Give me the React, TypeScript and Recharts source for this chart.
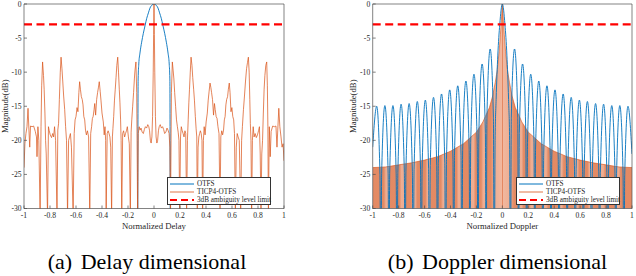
import { ComposedChart, Line, Area, XAxis, YAxis, ReferenceLine, Legend } from 'recharts';

type Pt = [number, number];

const SERIF = "'Liberation Serif', 'Times New Roman', Times, serif";
const BLUE = '#0072BD';
const ORANGE = '#D95319';
const RED = '#FF0000';
const AXIS = '#4d4d4d';

const xTicks = [-1, -0.8, -0.6, -0.4, -0.2, 0, 0.2, 0.4, 0.6, 0.8, 1];
const yTicks = [-30, -25, -20, -15, -10, -5, 0];
const limitLevel = -3;

// (a) delay: OTFS main lobe, falls below -30 outside it
const delayOtfs: Pt[] = [
  [-0.126, -45], [-0.122, -11], [-0.117, -8.8], [-0.108, -7.2], [-0.095, -5.6], [-0.082, -4.3],
  [-0.068, -3.1], [-0.056, -2.1], [-0.043, -1.3], [-0.031, -0.6], [-0.015, -0.15], [0, 0],
  [0.015, -0.15], [0.031, -0.6], [0.043, -1.3], [0.056, -2.1], [0.068, -3.1], [0.082, -4.3],
  [0.095, -5.6], [0.108, -7.2], [0.117, -8.8], [0.122, -11], [0.126, -45],
];

// (a) delay: TICP4-OTFS
const delayTicp: Pt[] = [
  [-1, -24], [-0.993, -20.5], [-0.985, -19], [-0.977, -18], [-0.969, -15.3], [-0.962, -18.5],
  [-0.956, -21], [-0.95, -17.9], [-0.938, -18], [-0.926, -17.9], [-0.913, -18.7], [-0.904, -19.5],
  [-0.9, -22.4], [-0.893, -18], [-0.886, -20], [-0.876, -31], [-0.869, -18], [-0.864, -12],
  [-0.857, -8.5], [-0.85, -10.5], [-0.845, -12.5], [-0.839, -16], [-0.834, -20], [-0.829, -22],
  [-0.819, -31], [-0.812, -18], [-0.806, -18.6], [-0.798, -19.2], [-0.788, -19.6], [-0.779, -19],
  [-0.772, -19.5], [-0.765, -18], [-0.757, -20], [-0.746, -31], [-0.74, -18.5], [-0.734, -17.5],
  [-0.728, -14], [-0.721, -10], [-0.715, -7.8], [-0.708, -9.5], [-0.702, -11.3], [-0.695, -13.5],
  [-0.687, -15.5], [-0.68, -18], [-0.673, -20], [-0.665, -31], [-0.657, -20], [-0.65, -19.5],
  [-0.643, -19], [-0.635, -21], [-0.622, -31], [-0.614, -19], [-0.607, -17], [-0.6, -16.5],
  [-0.592, -15.2], [-0.585, -15.8], [-0.578, -13], [-0.572, -11.4], [-0.566, -12.5], [-0.559, -13.6],
  [-0.552, -14], [-0.546, -14.8], [-0.54, -16.5], [-0.533, -17], [-0.527, -18.5], [-0.52, -19.2],
  [-0.512, -18.6], [-0.503, -19.5], [-0.494, -31], [-0.487, -19], [-0.48, -18], [-0.474, -16.8],
  [-0.468, -16.5], [-0.461, -15.5], [-0.456, -14.6], [-0.449, -16.3], [-0.441, -14], [-0.434, -13],
  [-0.427, -12.2], [-0.421, -11.4], [-0.414, -12.8], [-0.408, -14.1], [-0.4, -16], [-0.39, -17.3],
  [-0.383, -19.2], [-0.377, -18], [-0.372, -20], [-0.368, -31], [-0.36, -19], [-0.353, -18.6],
  [-0.346, -19], [-0.339, -19.5], [-0.333, -21], [-0.326, -31], [-0.32, -19.5], [-0.316, -18.3],
  [-0.31, -16.5], [-0.304, -14.1], [-0.298, -12.5], [-0.292, -10.8], [-0.286, -9], [-0.279, -7.8],
  [-0.273, -10], [-0.267, -12.5], [-0.262, -14.5], [-0.257, -17], [-0.253, -20], [-0.248, -31],
  [-0.241, -19], [-0.234, -18.6], [-0.226, -19.5], [-0.219, -19], [-0.212, -18.6], [-0.205, -18],
  [-0.197, -19.5], [-0.19, -20.5], [-0.182, -31], [-0.176, -18.8], [-0.171, -17], [-0.164, -15],
  [-0.157, -13], [-0.151, -11], [-0.146, -9.7], [-0.139, -8.5], [-0.133, -13], [-0.126, -31],
  [-0.121, -19], [-0.114, -18], [-0.107, -18.5], [-0.1, -18.2], [-0.091, -18.8], [-0.082, -19],
  [-0.074, -18.4], [-0.066, -18], [-0.057, -18.2], [-0.048, -17.7], [-0.04, -18], [-0.034, -18.6],
  [-0.028, -20], [-0.022, -20.4], [-0.016, -19.5], [-0.011, -16.5], [-0.006, -10], [-0.003, -4.5],
  [0, 0],
  [0.003, -4.5], [0.006, -10], [0.011, -16.5], [0.016, -19.5], [0.022, -20.4], [0.028, -20],
  [0.034, -18.6], [0.04, -18], [0.048, -17.7], [0.057, -18.2], [0.066, -18], [0.074, -18.4],
  [0.082, -19], [0.091, -18.8], [0.1, -18.2], [0.108, -18.5], [0.116, -19], [0.122, -21],
  [0.127, -31], [0.134, -13], [0.141, -8.5], [0.147, -9.7], [0.153, -11], [0.159, -13],
  [0.166, -15], [0.173, -17], [0.18, -18], [0.186, -18.8], [0.192, -20], [0.198, -31],
  [0.204, -19.5], [0.21, -18], [0.217, -18.6], [0.224, -19], [0.231, -19.5], [0.238, -18.6],
  [0.244, -19], [0.251, -31], [0.257, -20], [0.263, -17], [0.268, -14.5], [0.273, -12.5],
  [0.279, -10], [0.285, -7.8], [0.292, -9], [0.298, -10.8], [0.305, -12.5], [0.311, -14.1],
  [0.318, -16.5], [0.324, -18.3], [0.329, -19.5], [0.333, -31], [0.339, -21], [0.345, -19.5],
  [0.351, -19], [0.357, -18.6], [0.363, -19], [0.369, -20], [0.374, -31], [0.38, -20],
  [0.386, -18], [0.393, -19.2], [0.401, -17.3], [0.41, -16], [0.417, -14.1], [0.424, -12.8],
  [0.431, -11.6], [0.437, -12.2], [0.443, -13], [0.45, -14], [0.458, -16.3], [0.465, -14.6],
  [0.471, -15.5], [0.478, -16.5], [0.485, -16.8], [0.492, -18], [0.5, -19], [0.508, -31],
  [0.514, -19.5], [0.521, -18.6], [0.528, -19.2], [0.535, -18.5], [0.541, -17], [0.547, -16.5],
  [0.553, -14.8], [0.559, -14], [0.566, -13.6], [0.572, -12.5], [0.579, -11.6], [0.585, -13],
  [0.592, -15.8], [0.599, -15.2], [0.606, -16.5], [0.613, -17], [0.619, -19], [0.626, -31],
  [0.633, -21], [0.64, -19], [0.647, -19.5], [0.656, -20], [0.667, -31], [0.674, -20],
  [0.68, -18], [0.688, -15.5], [0.696, -13.5], [0.704, -11.3], [0.712, -9.5], [0.719, -8.6],
  [0.726, -7.8], [0.732, -10], [0.737, -14], [0.741, -17.5], [0.746, -20], [0.751, -31],
  [0.757, -20], [0.763, -18], [0.77, -19.5], [0.778, -19], [0.787, -19.6], [0.796, -19.2],
  [0.804, -18.6], [0.811, -18], [0.817, -22], [0.823, -31], [0.829, -22], [0.835, -20],
  [0.841, -16], [0.847, -12.5], [0.853, -10.5], [0.86, -9], [0.867, -8.5], [0.872, -12],
  [0.876, -18], [0.88, -31], [0.887, -18], [0.894, -22.4], [0.901, -18.7], [0.913, -17.9],
  [0.926, -18], [0.938, -17.9], [0.946, -21], [0.952, -18.5], [0.96, -15.3], [0.968, -18],
  [0.977, -19.5], [0.985, -21], [0.993, -20.5], [1, -23],
];

// (b) doppler: OTFS sidelobes
const dopplerOtfs: Pt[] = [
  [-1, -21], [-0.969, -15], [-0.944, -25], [-0.9375, -45],
  [-0.931, -24.9], [-0.906, -14.9], [-0.881, -24.9], [-0.875, -45],
  [-0.869, -24.9], [-0.844, -14.9], [-0.819, -24.9], [-0.8125, -45],
  [-0.806, -24.7], [-0.781, -14.7], [-0.756, -24.7], [-0.75, -45],
  [-0.744, -24.6], [-0.719, -14.6], [-0.694, -24.6], [-0.6875, -45],
  [-0.681, -24.3], [-0.656, -14.3], [-0.631, -24.3], [-0.625, -45],
  [-0.619, -24.1], [-0.594, -14.1], [-0.569, -24.1], [-0.5625, -45],
  [-0.556, -23.7], [-0.531, -13.7], [-0.506, -23.7], [-0.5, -45],
  [-0.494, -23.2], [-0.469, -13.2], [-0.444, -23.2], [-0.4375, -45],
  [-0.431, -22.6], [-0.406, -12.6], [-0.381, -22.6], [-0.375, -45],
  [-0.369, -22], [-0.344, -12], [-0.319, -22], [-0.3125, -45],
  [-0.306, -21.3], [-0.281, -11.3], [-0.256, -21.3], [-0.25, -45],
  [-0.244, -20.3], [-0.219, -10.3], [-0.194, -20.3], [-0.1875, -45],
  [-0.181, -18.8], [-0.156, -8.8], [-0.131, -18.8], [-0.125, -45],
  [-0.119, -16.6], [-0.094, -6.6], [-0.069, -16.6], [-0.0625, -45],
  [-0.056, -20], [-0.048, -14], [-0.035, -7.5], [-0.02, -3], [0, 0],
  [0.02, -3], [0.035, -7.5], [0.048, -14], [0.056, -20], [0.0625, -45],
  [0.069, -16.6], [0.094, -6.6], [0.119, -16.6], [0.125, -45],
  [0.131, -18.8], [0.156, -8.8], [0.181, -18.8], [0.1875, -45],
  [0.194, -20.3], [0.219, -10.3], [0.244, -20.3], [0.25, -45],
  [0.256, -21.3], [0.281, -11.3], [0.306, -21.3], [0.3125, -45],
  [0.319, -22], [0.344, -12], [0.369, -22], [0.375, -45],
  [0.381, -22.6], [0.406, -12.6], [0.431, -22.6], [0.4375, -45],
  [0.444, -23.2], [0.469, -13.2], [0.494, -23.2], [0.5, -45],
  [0.506, -23.7], [0.531, -13.7], [0.556, -23.7], [0.5625, -45],
  [0.569, -24.1], [0.594, -14.1], [0.619, -24.1], [0.625, -45],
  [0.631, -24.3], [0.656, -14.3], [0.681, -24.3], [0.6875, -45],
  [0.694, -24.6], [0.719, -14.6], [0.744, -24.6], [0.75, -45],
  [0.756, -24.7], [0.781, -14.7], [0.806, -24.7], [0.8125, -45],
  [0.819, -24.9], [0.844, -14.9], [0.869, -24.9], [0.875, -45],
  [0.881, -24.9], [0.906, -14.9], [0.931, -24.9], [0.9375, -45],
  [0.944, -25], [0.969, -15], [1, -22],
];

// (b) doppler: TICP4-OTFS upper envelope (the trace oscillates down to the floor)
const dopplerTicp: Pt[] = [
  [-1, -24], [-0.9, -23.9], [-0.8, -23.6], [-0.7, -23.3], [-0.6, -22.9], [-0.5, -22.4],
  [-0.4, -21.6], [-0.3, -20.5], [-0.2, -18.8], [-0.15, -17.3], [-0.1, -15.2], [-0.075, -13.5],
  [-0.055, -11.5], [-0.04, -9.8], [-0.025, -7], [-0.015, -4.5], [-0.008, -2.5], [0, 0],
  [0.008, -2.5], [0.015, -4.5], [0.025, -7], [0.04, -9.8], [0.055, -11.5], [0.075, -13.5],
  [0.1, -15.2], [0.15, -17.3], [0.2, -18.8], [0.3, -20.5], [0.4, -21.6], [0.5, -22.4],
  [0.6, -22.9], [0.7, -23.3], [0.8, -23.6], [0.9, -23.9], [1, -24],
];

// x positions of the paler streaks inside the dense doppler trace
const paleStreaks = [-0.89, -0.77, -0.68, -0.57, -0.45, -0.33, -0.23, -0.14, 0.14, 0.23, 0.33, 0.45, 0.57, 0.68, 0.77, 0.89];

const toRows = (pts: Pt[]) => pts.map(([x, y]) => ({ x, y }));

const tickFont = { fill: '#262626', fontSize: 7.6, fontFamily: SERIF };
const labelFont = { fill: '#262626', fontSize: 8.7, fontFamily: SERIF };

const FILL = '#E07A4E';
const PALE = '#ECA282';

function streakStops() {
  const stops: { o: number; c: string }[] = [{ o: 0, c: FILL }];
  paleStreaks.forEach(x => {
    const o = (x + 1) / 2;
    stops.push({ o: o - 0.012, c: FILL }, { o: o - 0.004, c: PALE }, { o: o + 0.004, c: PALE }, { o: o + 0.012, c: FILL });
  });
  stops.push({ o: 0.455, c: FILL }, { o: 0.47, c: PALE }, { o: 0.497, c: '#EFAE92' }, { o: 0.5, c: '#DD6A3C' },
    { o: 0.503, c: '#EFAE92' }, { o: 0.53, c: PALE }, { o: 0.545, c: FILL }, { o: 1, c: FILL });
  return stops.sort((a, b) => a.o - b.o);
}

function LegendBox() {
  const rows = [
    { label: 'OTFS', color: BLUE, w: 1, dash: undefined as string | undefined },
    { label: 'TICP4-OTFS', color: ORANGE, w: 0.8, dash: undefined },
    { label: '3dB ambiguity level limit', color: RED, w: 2, dash: '7 4' },
  ];
  return (
    <div style={{ width: 104, height: 28, boxSizing: 'border-box', border: '0.8px solid #333', background: '#fff',
      fontFamily: SERIF, fontSize: 7.2, color: '#262626', paddingTop: 1.5 }}>
      {rows.map(r => (
        <div key={r.label} style={{ display: 'flex', alignItems: 'center', height: 8.3, whiteSpace: 'nowrap' }}>
          <svg width={27} height={6} style={{ marginLeft: 2, flex: 'none' }}>
            <line x1={0} x2={24} y1={3} y2={3} stroke={r.color} strokeWidth={r.w} strokeDasharray={r.dash} />
          </svg>
          <span>{r.label}</span>
        </div>
      ))}
    </div>
  );
}

type PanelProps = { left: number; width: number; marginLeft: number; marginRight: number;
  xLabel: string; yLabelOffset: number; legendLeft: number; doppler?: boolean };

function Panel({ left, width, marginLeft, marginRight, xLabel, yLabelOffset, legendLeft, doppler }: PanelProps) {
  const otfs = toRows(doppler ? dopplerOtfs : delayOtfs);
  const ticp = toRows(doppler ? dopplerTicp : delayTicp);
  return (
    <div style={{ position: 'absolute', left, top: 0 }}>
      <ComposedChart width={width} height={240} margin={{ top: 3, right: marginRight, bottom: 9.5, left: marginLeft }}>
        <defs>
          <linearGradient id="dopFill" x1="0" y1="0" x2="1" y2="0">
            {streakStops().map((s, i) => <stop key={i} offset={s.o} stopColor={s.c} />)}
          </linearGradient>
        </defs>
        <XAxis type="number" dataKey="x" domain={[-1, 1]} ticks={xTicks} interval={0} allowDataOverflow
          height={22} tickSize={-3} tickMargin={7.5} tick={tickFont} stroke={AXIS} strokeWidth={0.7}
          label={{ value: xLabel, position: 'insideBottom', offset: 1.5, ...labelFont }} />
        <XAxis xAxisId="top" orientation="top" type="number" domain={[-1, 1]} ticks={xTicks} interval={0}
          allowDataOverflow height={1} tickSize={-3} tick={false} stroke={AXIS} strokeWidth={0.7} />
        <YAxis type="number" domain={[-30, 0]} ticks={yTicks} interval={0} allowDataOverflow width={24}
          tickSize={-3} tickMargin={5.5} tick={tickFont} stroke={AXIS} strokeWidth={0.7}
          label={{ value: 'Magnitude(dB)', angle: -90, position: 'insideLeft', offset: yLabelOffset,
            style: { textAnchor: 'middle' }, ...labelFont }} />
        <YAxis yAxisId="right" orientation="right" type="number" domain={[-30, 0]} ticks={yTicks} interval={0}
          allowDataOverflow width={1} tickSize={-3} tick={false} stroke={AXIS} strokeWidth={0.7} />
        <Line data={otfs} dataKey="y" type="monotone" stroke={BLUE} strokeWidth={0.9} dot={false}
          isAnimationActive={false} name="OTFS" />
        {doppler ? (
          <Area data={ticp} dataKey="y" type="linear" baseValue={-30} stroke={ORANGE} strokeWidth={0.6}
            fill="url(#dopFill)" fillOpacity={0.88} isAnimationActive={false} name="TICP4-OTFS" />
        ) : (
          <Line data={ticp} dataKey="y" type="linear" stroke={ORANGE} strokeWidth={0.8} strokeOpacity={0.9}
            dot={false} isAnimationActive={false} name="TICP4-OTFS" />
        )}
        <ReferenceLine y={limitLevel} stroke={RED} strokeWidth={2.2} strokeDasharray="8 4.5" />
        <Legend layout="vertical" align="center" verticalAlign="middle" content={() => <LegendBox />}
          wrapperStyle={{ left: legendLeft, top: 177, width: 104, height: 28 }} />
      </ComposedChart>
    </div>
  );
}

function Caption({ center, tag, text }: { center: number; tag: string; text: string }) {
  return (
    <div style={{ position: 'absolute', left: center - 160, width: 320, top: 251, textAlign: 'center',
      fontFamily: SERIF, fontSize: 22, lineHeight: '22px', color: '#000', whiteSpace: 'nowrap' }}>
      <span style={{ marginRight: 3 }}>{tag}</span> {text}
    </div>
  );
}

export default function App() {
  return (
    <div style={{ position: 'absolute', left: 0, top: 0, width: 636, height: 276, background: '#fff', overflow: 'hidden' }}>
      <Panel left={0} width={300} marginLeft={0} marginRight={15} xLabel="Normalized Delay"
        yLabelOffset={5} legendLeft={167} />
      <Panel left={348} width={288} marginLeft={0.7} marginRight={3} xLabel="Normalized Doppler"
        yLabelOffset={4.7} legendLeft={168} doppler />
      <Caption center={147} tag="(a)" text="Delay dimensional" />
      <Caption center={497.5} tag="(b)" text="Doppler dimensional" />
    </div>
  );
}
